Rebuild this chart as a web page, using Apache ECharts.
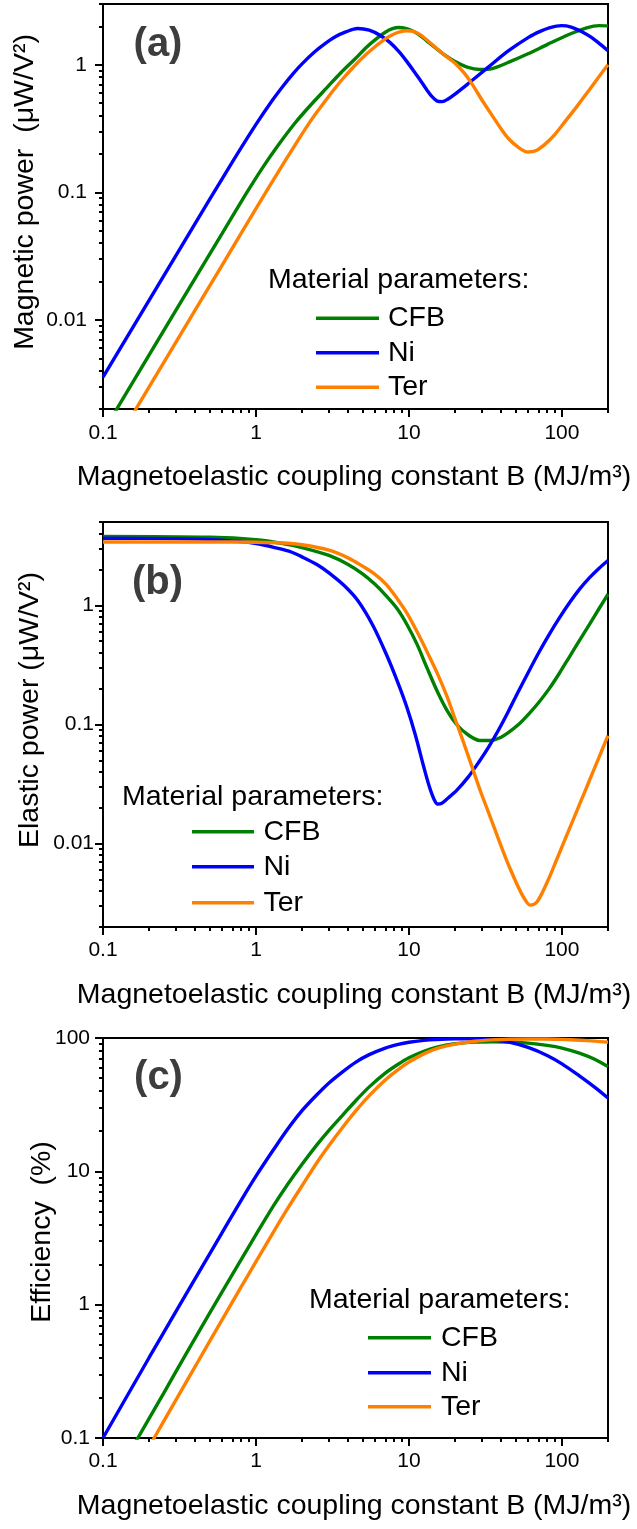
<!DOCTYPE html>
<html>
<head>
<meta charset="utf-8">
<script src="https://cdn.jsdelivr.net/npm/echarts@6/dist/echarts.min.js"></script>
<style>
  html, body { margin: 0; padding: 0; background: #fff; }
  #chart { width: 637px; height: 1529px; }
</style>
</head>
<body>
<div id="chart"></div>
<script>
// Magnetoelastic coupling constant B (MJ/m³) on the shared log x axis
const bTicks = [0.1, 1, 10, 100];
const magTicks = [0.01, 0.1, 1];
const elaTicks = [0.01, 0.1, 1];
const effTicks = [0.1, 1, 10, 100];
const materials = ['CFB', 'Ni', 'Ter'];

// (a) magnetic power, µW/V²  — [B, P]
const magCFB = [[0.1,0.00132],[0.3,0.0119],[0.6,0.0475],[0.85,0.095],[1.1,0.155],[1.4,0.235],[1.8,0.35],[2.3,0.49],[2.9,0.66],[3.6,0.87],[4.4,1.1],[5.3,1.38],[6.2,1.62],[7,1.8],[7.8,1.92],[8.6,1.96],[9.5,1.93],[10.5,1.85],[11.5,1.74],[13,1.55],[15,1.35],[17,1.2],[20,1.06],[24,0.96],[29,0.92],[35,0.935],[45,1.05],[60,1.22],[80,1.44],[110,1.72],[145,1.95],[175,2.03],[200,2.02]];
const magNi = [[0.1,0.00355],[0.2,0.0142],[0.35,0.0435],[0.5,0.0887],[0.7,0.1727],[1,0.341],[1.25,0.507],[1.5,0.68],[1.75,0.854],[2,1.018],[2.4,1.256],[2.8,1.454],[3.3,1.66],[3.9,1.82],[4.6,1.93],[5.5,1.87],[6.5,1.7],[7.5,1.5],[8.6,1.27],[9.7,1.06],[11,0.86],[12.2,0.72],[13.1,0.635],[14.2,0.56],[15.3,0.52],[16.5,0.515],[17.8,0.535],[20,0.59],[24.3,0.71],[33,0.96],[44.8,1.29],[60.8,1.65],[72,1.83],[82.6,1.95],[99,2.03],[115,1.98],[135,1.82],[155,1.65],[172,1.5],[200,1.29]];
const magTer = [[0.1,0.00074],[0.3,0.0067],[0.6,0.0268],[1,0.0744],[1.4,0.145],[1.8,0.235],[2.3,0.37],[2.9,0.54],[3.6,0.75],[4.4,0.98],[5.3,1.22],[6.2,1.43],[7,1.6],[7.8,1.72],[8.7,1.81],[9.7,1.85],[10.7,1.83],[11.7,1.74],[13,1.58],[15,1.36],[17,1.2],[20,1.03],[23,0.86],[26,0.7],[30,0.53],[35,0.4],[40,0.315],[45,0.262],[52,0.225],[60,0.207],[68,0.213],[78,0.24],[90,0.285],[105,0.36],[125,0.47],[150,0.63],[175,0.81],[200,1.0]];

// (b) elastic power, µW/V²  — [B, P]
const elaCFB = [[0.1,3.78],[0.5,3.72],[1,3.55],[1.5,3.3],[2,3.05],[3,2.62],[4,2.2],[5,1.83],[6,1.5],[7.1,1.2],[8.4,0.93],[9.7,0.69],[11.3,0.47],[13.1,0.3],[15.3,0.19],[17.8,0.13],[20.5,0.1],[24.3,0.082],[29,0.0735],[34,0.0735],[39,0.077],[44.8,0.086],[52,0.1],[60.8,0.123],[70.5,0.153],[82.6,0.2],[96,0.268],[112,0.37],[130,0.505],[151,0.69],[175,0.94],[200,1.24]];
const elaNi = [[0.1,3.65],[0.3,3.63],[0.6,3.52],[1,3.3],[1.4,3.0],[1.7,2.8],[2,2.55],[2.5,2.2],[3,1.87],[3.8,1.45],[4.64,1.09],[5.8,0.68],[7.1,0.39],[8.4,0.23],[9.7,0.139],[11,0.082],[12.5,0.044],[13.6,0.03],[14.6,0.0235],[15.4,0.0215],[16.4,0.0218],[17.8,0.0238],[20.5,0.028],[24.3,0.036],[28.5,0.048],[33,0.064],[38.5,0.09],[44.8,0.13],[52,0.19],[60.8,0.28],[70.5,0.4],[82.6,0.57],[96,0.78],[112,1.05],[130,1.36],[151,1.7],[175,2.05],[200,2.38]];
const elaTer = [[0.1,3.4],[0.5,3.4],[1,3.38],[1.5,3.33],[2,3.22],[3,2.9],[4,2.5],[5,2.12],[6,1.82],[7.1,1.5],[8.4,1.13],[9.7,0.86],[11.3,0.6],[13.1,0.41],[15.3,0.27],[17.8,0.17],[19.6,0.12],[21.6,0.085],[24,0.058],[26.6,0.0395],[29.5,0.027],[33,0.0185],[37,0.0125],[41,0.0088],[46,0.0061],[51.5,0.0044],[56.5,0.0035],[62,0.00305],[68,0.0032],[74.5,0.0039],[82.6,0.0052],[92,0.00726],[102,0.01],[112,0.01337],[125,0.01878],[137,0.02496],[151,0.03375],[168,0.047],[184,0.0623],[200,0.0806]];

// (c) efficiency, %  — [B, η]
const effCFB = [[0.1,0.035],[0.169,0.1],[0.25,0.218],[0.35,0.43],[0.5,0.87],[0.7,1.68],[1,3.35],[1.3,5.5],[1.6,7.9],[2,11.3],[2.5,15.8],[3,20.3],[3.7,26.5],[4.5,34],[5.5,43],[7,54.5],[8.5,63.5],[10,71],[12.5,79.5],[15,85],[20,90.5],[27,93.2],[35,93.8],[45,93.4],[60,91.5],[80,88],[100,84],[130,77],[165,69],[200,61]];
const effNi = [[0.1,0.1],[0.2,0.4],[0.3,0.89],[0.45,1.97],[0.65,4.05],[0.85,6.8],[1,9.2],[1.3,14.5],[1.6,20.5],[2,28.5],[2.5,37.5],[3,46],[3.7,56],[4.5,66],[5.5,75],[7,84],[8.5,89.5],[10,93],[12.5,96],[15,97.5],[20,98.5],[27,98.5],[35,97],[45,93],[60,85],[80,74],[100,64],[130,52],[165,42.5],[200,35.5]];
const effTer = [[0.1,0.0214],[0.216,0.1],[0.3,0.193],[0.42,0.378],[0.6,0.77],[0.8,1.36],[1,2.1],[1.3,3.5],[1.6,5.2],[2,7.8],[2.5,11.6],[3,15.6],[3.7,21.5],[4.5,28.5],[5.5,37],[7,48.5],[8.5,58],[10,66],[12.5,76],[15,83],[20,90],[27,94.5],[35,96.8],[45,97.9],[60,98.4],[80,98.2],[100,97.6],[130,96.3],[165,94.7],[200,93]];

const COLORS = ['#008000', '#0000ff', '#ff8000'];
const FONT = '"Liberation Sans", Arial, Helvetica, sans-serif';
const TITLE_FONT = '28.5px ' + FONT;
const X_MIN = 0.1, X_MAX = 200;
const PLOT_LEFT = 103, PLOT_WIDTH = 505;

const panels = [
  { top: 4, height: 405, yMin: 0.002, yMax: 3, yTicks: magTicks, data: [magCFB, magNi, magTer],
    xMargin: 14, yMargin: 16, tag: '(a)', tagX: 158, tagY: 44.5,
    yTitle: 'Magnetic power  (\u03bcW/V\u00b2)', yTitleX: 25, yTitleY: 192, xTitleY: 477,
    legX: 268, legY: 280.5, lineX: [316, 379], rowY: [318.3, 352.7, 387.3], textX: 388 },
  { top: 522, height: 405, yMin: 0.002, yMax: 5, yTicks: elaTicks, data: [elaCFB, elaNi, elaTer],
    xMargin: 13, yMargin: 9, tag: '(b)', tagX: 157.5, tagY: 583,
    yTitle: 'Elastic power (\u03bcW/V\u00b2)', yTitleX: 30, yTitleY: 710, xTitleY: 995,
    legX: 122, legY: 797, lineX: [192, 254], rowY: [831.7, 866.7, 902.7], textX: 263.5 },
  { top: 1038, height: 400, yMin: 0.1, yMax: 100, yTicks: effTicks, data: [effCFB, effNi, effTer],
    xMargin: 13, yMargin: 13, tag: '(c)', tagX: 158.5, tagY: 1078,
    yTitle: 'Efficiency  (%)', yTitleX: 42, yTitleY: 1232, xTitleY: 1506,
    legX: 309, legY: 1300.3, lineX: [368, 431], rowY: [1337.7, 1372.7, 1406.7], textX: 441 }
];

// Log-decade minor ticks (2..9 × 10^n) inside [lo, hi]
function minorTicks(lo, hi) {
  const out = [];
  for (let e = Math.floor(Math.log10(lo)) - 1; e <= Math.ceil(Math.log10(hi)); e++) {
    for (let m = 2; m <= 9; m++) {
      const v = +(m * Math.pow(10, e)).toPrecision(6);
      if (v >= lo && v <= hi) out.push(v);
    }
  }
  return out;
}

const fmt = v => String(+(+v).toPrecision(6));
const tickLine = { color: '#000', width: 2 };
const labelStyle = { color: '#000', fontSize: 21, fontFamily: FONT };

const grid = [], xAxis = [], yAxis = [], series = [], graphic = [];

panels.forEach((p, i) => {
  const rect = { left: PLOT_LEFT, top: p.top, width: PLOT_WIDTH, height: p.height };
  // main grid: frame, axes, labels, major ticks, curves
  grid.push(Object.assign({ show: true, borderColor: '#000', borderWidth: 2, backgroundColor: 'transparent' }, rect));
  // overlay grid carrying only the minor ticks
  grid.push(Object.assign({ show: false }, rect));
  const gMain = 2 * i, gMinor = 2 * i + 1;

  xAxis.push({
    type: 'log', logBase: 10, gridIndex: gMain, min: X_MIN, max: X_MAX,
    axisLine: { show: true, lineStyle: tickLine },
    axisTick: { show: true, inside: false, length: 8, lineStyle: tickLine, customValues: bTicks },
    axisLabel: Object.assign({ customValues: bTicks, formatter: fmt, margin: p.xMargin }, labelStyle),
    splitLine: { show: false }
  });
  xAxis.push({
    type: 'log', logBase: 10, gridIndex: gMinor, min: X_MIN, max: X_MAX,
    axisLine: { show: false },
    axisTick: { show: true, inside: false, length: 4, lineStyle: tickLine, customValues: minorTicks(X_MIN, X_MAX) },
    axisLabel: { show: false },
    splitLine: { show: false }
  });
  yAxis.push({
    type: 'log', logBase: 10, gridIndex: gMain, min: p.yMin, max: p.yMax,
    axisLine: { show: true, lineStyle: tickLine },
    axisTick: { show: true, inside: false, length: 8, lineStyle: tickLine, customValues: p.yTicks },
    axisLabel: Object.assign({ customValues: p.yTicks, formatter: fmt, margin: p.yMargin }, labelStyle),
    splitLine: { show: false }
  });
  yAxis.push({
    type: 'log', logBase: 10, gridIndex: gMinor, min: p.yMin, max: p.yMax,
    axisLine: { show: false },
    axisTick: { show: true, inside: false, length: 4, lineStyle: tickLine, customValues: minorTicks(p.yMin, p.yMax) },
    axisLabel: { show: false },
    splitLine: { show: false }
  });

  p.data.forEach((d, k) => {
    series.push({
      name: materials[k], type: 'line', xAxisIndex: gMain, yAxisIndex: gMain,
      data: d, symbol: 'none', showSymbol: false, smooth: 0.3, clip: true,
      lineStyle: { color: COLORS[k], width: 3.4 }, itemStyle: { color: COLORS[k] },
      z: 3 + k
    });
  });

  // panel tag
  graphic.push({ type: 'text', x: p.tagX, y: p.tagY, z: 10,
    style: { text: p.tag, fill: '#3d3d3d', font: 'bold 40px ' + FONT, align: 'center', verticalAlign: 'middle' } });
  // y-axis title
  graphic.push({ type: 'text', x: p.yTitleX, y: p.yTitleY, rotation: Math.PI / 2, z: 10,
    style: { text: p.yTitle, fill: '#000', font: TITLE_FONT, align: 'center', verticalAlign: 'middle' } });
  // x-axis title
  graphic.push({ type: 'text', x: 354, y: p.xTitleY, z: 10,
    style: { text: 'Magnetoelastic coupling constant B (MJ/m\u00b3)', fill: '#000', font: TITLE_FONT, align: 'center', verticalAlign: 'middle' } });
  // legend block
  graphic.push({ type: 'text', x: p.legX, y: p.legY, z: 10,
    style: { text: 'Material parameters:', fill: '#000', font: TITLE_FONT, align: 'left', verticalAlign: 'middle' } });
  materials.forEach((m, k) => {
    graphic.push({ type: 'line', z: 10,
      shape: { x1: p.lineX[0], y1: p.rowY[k], x2: p.lineX[1], y2: p.rowY[k] },
      style: { stroke: COLORS[k], lineWidth: 3.4 } });
    graphic.push({ type: 'text', x: p.textX, y: p.rowY[k], z: 10,
      style: { text: m, fill: '#000', font: TITLE_FONT, align: 'left', verticalAlign: 'middle' } });
  });
});

const chart = echarts.init(document.getElementById('chart'), null, { renderer: 'canvas' });
chart.setOption({
  animation: false,
  backgroundColor: '#fff',
  grid, xAxis, yAxis, series, graphic
});
</script>
</body>
</html>
